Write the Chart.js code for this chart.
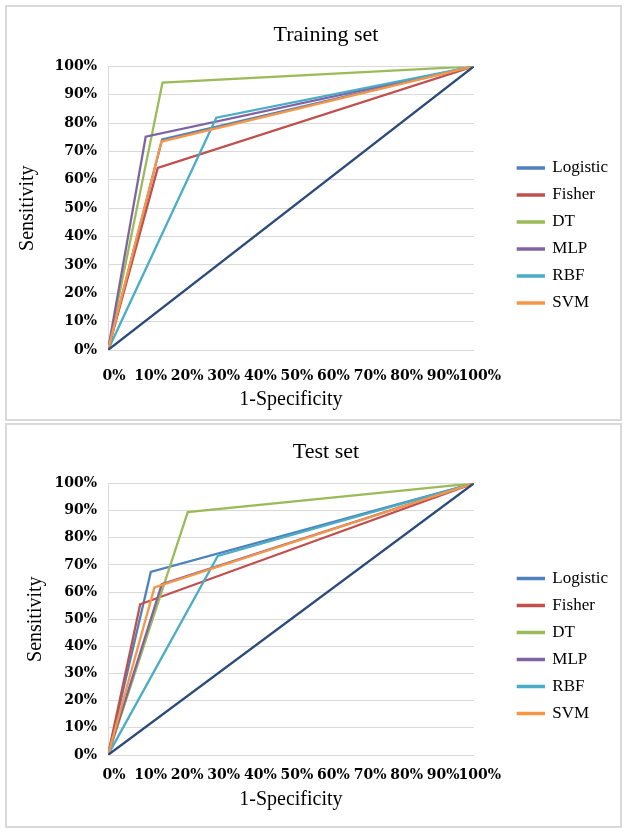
<!DOCTYPE html>
<html>
<head>
<meta charset="utf-8">
<script src="https://cdn.jsdelivr.net/npm/chart.js@4.4.0/dist/chart.umd.min.js"></script>
<style>
body { margin: 0; background: #fff; }
.panel { position: absolute; left: 5px; width: 617px; border: 2px solid #d9d9d9; box-sizing: border-box; background: #fff; }
#train-panel { top: 5px; height: 416px; }
#test-panel { top: 423px; height: 405px; }
canvas { display: block; }
</style>
</head>
<body>
<div class="panel" id="train-panel"><canvas id="train-chart" width="613" height="412"></canvas></div>
<div class="panel" id="test-panel"><canvas id="test-chart" width="613" height="401"></canvas></div>
<script>
// ROC knees: (1-specificity, sensitivity)
const methods = ["Logistic", "Fisher", "DT", "MLP", "RBF", "SVM"];
const trainFpr = [0.148, 0.136, 0.149, 0.103, 0.296, 0.146];
const trainTpr = [0.742, 0.642, 0.943, 0.752, 0.819, 0.735];
const testFpr = [0.117, 0.088, 0.218, 0.147, 0.300, 0.127];
const testTpr = [0.674, 0.555, 0.894, 0.629, 0.733, 0.617];
const percentTicks = [0, 10, 20, 30, 40, 50, 60, 70, 80, 90, 100];

const colors = ["#4F81BD", "#C0504D", "#9BBB59", "#8064A2", "#4BACC6", "#F79646"];
const diagColor = "#2A4A7A";

Chart.defaults.font.family = "'Liberation Serif', serif";
Chart.defaults.color = "#000";

let tickFont = {family: "'DejaVu Serif', serif", size: 14, weight: "bold"};
let axisTitleFont = {family: "'Liberation Serif', serif", size: 20, weight: "normal"};

// layout numbers for each panel (canvas px)
let trainBox = {titleTop: 15, titleBottom: 18, xAxisHeight: 69, xTickPad: 10, xTitleBottom: 7, yTitleTop: 9, legendTop: 33};
let testBox = {titleTop: 14, titleBottom: 18, xAxisHeight: 71, xTickPad: 4, xTitleBottom: 14, yTitleTop: 17, legendTop: 29};

// the chart title sits a little right of the canvas centre in the original
let titleShift = {
    id: "titleShift",
    afterLayout(chart) {
        chart.titleBlock.left += 37;
    }
};

drawRoc("train-chart", "Training set", trainFpr, trainTpr, trainBox);
drawRoc("test-chart", "Test set", testFpr, testTpr, testBox);

function setPercentTicks(axis) {
    axis.ticks = percentTicks.map(v => ({value: v / 100}));
}

function drawRoc(canvasId, titleText, fpr, tpr, box) {
    let datasets = methods.map((name, i) => ({
        label: name,
        data: [{x: 0, y: 0}, {x: fpr[i], y: tpr[i]}, {x: 1, y: 1}],
        borderColor: colors[i],
        backgroundColor: colors[i],
        borderWidth: 2.3,
        pointRadius: 0,
        showLine: true,
        order: methods.length - i
    }));
    // chance line
    datasets.push({
        label: "",
        data: [{x: 0, y: 0}, {x: 1, y: 1}],
        borderColor: diagColor,
        backgroundColor: diagColor,
        borderWidth: 2.3,
        pointRadius: 0,
        showLine: true,
        order: 0
    });

    new Chart(document.getElementById(canvasId), {
        type: "scatter",
        data: {datasets: datasets},
        plugins: [titleShift],
        options: {
            responsive: false,
            animation: false,
            layout: {padding: {left: 0, top: 0, bottom: 0, right: 12}},
            plugins: {
                title: {
                    display: true,
                    text: titleText,
                    color: "#000",
                    font: {family: "'Liberation Serif', serif", size: 22, weight: "normal"},
                    padding: {top: box.titleTop, bottom: box.titleBottom}
                },
                legend: {
                    position: "right",
                    title: {display: true, text: "", font: {size: 10}, padding: {top: box.legendTop, bottom: 0}},
                    labels: {
                        filter: item => item.datasetIndex < methods.length,
                        sort: (a, b) => a.datasetIndex - b.datasetIndex,
                        boxWidth: 26,
                        boxHeight: 1,
                        padding: 10,
                        color: "#000",
                        font: {family: "'Liberation Serif', serif", size: 17}
                    }
                },
                tooltip: {enabled: false}
            },
            scales: {
                x: {
                    type: "linear",
                    min: 0,
                    max: 1,
                    afterBuildTicks: setPercentTicks,
                    afterFit: s => { s.height = box.xAxisHeight; },
                    grid: {display: false},
                    border: {display: true, color: "#d9d9d9", width: 1},
                    ticks: {
                        autoSkip: false, maxRotation: 0, minRotation: 0,
                        labelOffset: 6, padding: box.xTickPad,
                        color: "#000", font: tickFont,
                        callback: v => Math.round(v * 100) + "%"
                    },
                    title: {display: true, text: "1-Specificity", color: "#000", font: axisTitleFont,
                        padding: {top: 0, bottom: box.xTitleBottom}}
                },
                y: {
                    type: "linear",
                    min: 0,
                    max: 1,
                    afterBuildTicks: setPercentTicks,
                    afterFit: s => { s.width = 101; },
                    grid: {color: "#d9d9d9", lineWidth: 1, drawTicks: false},
                    border: {display: true, color: "#d9d9d9", width: 1},
                    ticks: {
                        padding: 11, color: "#000", font: tickFont,
                        callback: v => Math.round(v * 100) + "%"
                    },
                    title: {display: true, text: "Sensitivity", color: "#000", font: axisTitleFont,
                        padding: {top: box.yTitleTop, bottom: 0}}
                },
                side: {
                    type: "linear",
                    position: "right",
                    display: true,
                    grid: {display: false},
                    border: {display: false},
                    ticks: {display: false},
                    afterFit: s => { s.width = 34; }
                }
            }
        }
    });
}
</script>
</body>
</html>
